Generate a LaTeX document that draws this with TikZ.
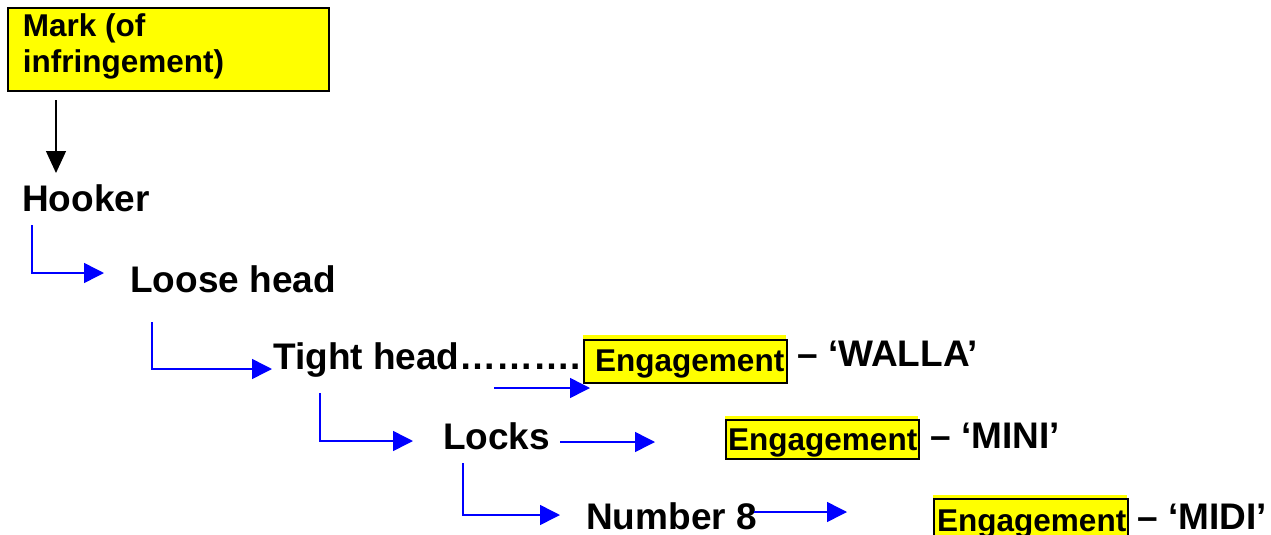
\documentclass[tikz,border=0pt]{standalone}
\usepackage{fontspec}
\setmainfont{Liberation Sans}
\usetikzlibrary{arrows.meta}
\definecolor{hl}{RGB}{255,255,0}
\definecolor{bl}{RGB}{0,0,255}
\begin{document}
\begin{tikzpicture}[x=1pt,y=-1pt,
  lbl/.style={inner sep=0pt, anchor=base west, font=\fontsize{37}{44}\selectfont\bfseries},
  eng/.style={inner sep=0pt, anchor=base west, font=\fontsize{31.5}{38}\selectfont\bfseries},
  markbox/.style={draw=black, fill=hl, line width=2pt, inner sep=0pt, anchor=north west},
  engbox/.style={draw=black, fill=hl, line width=1.6pt, inner sep=0pt, anchor=north west},
  flow/.style={draw=bl, line width=1.5pt, -{Triangle[width=20pt,length=20pt]}},
  down/.style={draw=black, line width=1.3pt, -{Triangle[width=20pt,length=22pt]}}]
\useasboundingbox (0,0) rectangle (1271,535);

% Mark box
\node[markbox, minimum width=321pt, minimum height=83pt] (markbg) at (7,7) {};
\node[eng] (mark1) at (22.7,37) {Mark (of};
\node[eng] (mark2) at (22.7,72) {infringement)};

% main labels
\node[lbl] (hooker) at (22,211) {Hooker};
\node[lbl] (loose) at (130,292) {Loose head};
\node[lbl] (tight) at (273,369) {Tight head……….};
\node[lbl] (locks) at (443,449) {Locks};
\node[lbl] (num8) at (586,529) {Number 8};

% Engagement boxes
\fill[hl] (583,335) rectangle (786,341);
\node[engbox, minimum width=203pt, minimum height=43pt] (b1) at (583,339) {};
\node[eng] (e1) at (595,371) {Engagement};
\node[lbl] (walla) at (797,366) {– ‘WALLA’};

\fill[hl] (725,416) rectangle (918,421);
\node[engbox, minimum width=193pt, minimum height=39pt] (b2) at (725,419) {};
\node[eng] (e2) at (728,450) {Engagement};
\node[lbl] (mini) at (930,448) {– ‘MINI’};

\fill[hl] (933,495) rectangle (1127,500);
\node[engbox, minimum width=194pt, minimum height=46pt] (b3) at (933,498) {};
\node[eng] (e3) at (937,531) {Engagement};
\node[lbl] (midi) at (1137,529) {– ‘MIDI’};

% connectors
\coordinate (m0) at (56,100);
\coordinate (m1) at (56,173);
\draw[down] (m0) -- (m1);

\coordinate (h0) at (32,225);
\coordinate (h1) at (104,273);
\draw[flow] (h0) |- (h1);

\coordinate (l0) at (152,322);
\coordinate (l1) at (272,369);
\draw[flow] (l0) |- (l1);

\coordinate (t0) at (494,388);
\coordinate (t1) at (590,388);
\draw[flow] (t0) -- (t1);

\coordinate (t2) at (320,393);
\coordinate (t3) at (413,441);
\draw[flow] (t2) |- (t3);

\coordinate (k0) at (560,442);
\coordinate (k1) at (655,442);
\draw[flow] (k0) -- (k1);

\coordinate (k2) at (463,463);
\coordinate (k3) at (560,515);
\draw[flow] (k2) |- (k3);

\coordinate (n0) at (754,512);
\coordinate (n1) at (847,512);
\draw[flow] (n0) -- (n1);
\end{tikzpicture}
\end{document}
